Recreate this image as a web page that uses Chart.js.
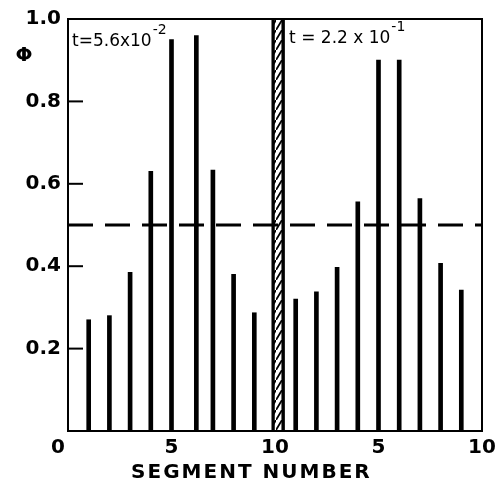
<!DOCTYPE html>
<html lang="en">
<head>
  <meta charset="UTF-8" />
  <title>Segment number vs phi</title>
  <script src="https://cdn.jsdelivr.net/npm/chart.js"></script>
  <style>
    body { margin: 0; background: #fff; }
    canvas { display: block; }
  </style>
</head>
<body>
  <canvas id="chart" width="502" height="485"></canvas>

  <script>
    // segment positions on a 0..20 axis (left panel 0-10, right panel 10-20)
    const leftSegments = [1, 2, 3, 4, 5, 6.2, 7, 8, 9];
    const leftPhi = [0.27, 0.28, 0.385, 0.63, 0.95, 0.96, 0.633, 0.38, 0.287];
    const rightSegments = [11, 12, 13, 14, 15, 16, 17, 18, 19];
    const rightPhi = [0.32, 0.338, 0.397, 0.556, 0.90, 0.90, 0.564, 0.407, 0.342];
    const dividerSegment = 10.15;
    const dividerPhi = 1.0;
    const thresholdPhi = 0.5;
    const xTickLabels = ['0', '5', '10', '5', '10'];
    const yTickValues = [0.2, 0.4, 0.6, 0.8];
    const leftLabel = { base: 't=5.6x10', exp: '-2' };
    const rightLabel = { base: 't = 2.2 x 10', exp: '-1' };

    const FONT = '"DejaVu Sans", sans-serif';

    // hatch pattern for the divider bar
    function makeHatch() {
      const c = document.createElement('canvas');
      c.width = 6; c.height = 10;
      const g = c.getContext('2d');
      g.fillStyle = '#fff';
      g.fillRect(0, 0, 6, 10);
      g.strokeStyle = '#000';
      g.lineWidth = 1.8;
      g.beginPath();
      g.moveTo(-0.6, 11); g.lineTo(6.6, -1);
      g.stroke();
      return g.createPattern(c, 'repeat');
    }

    const framePlugin = {
      id: 'frame',
      afterDraw(chart) {
        const ctx = chart.ctx;
        const a = chart.chartArea;
        const y = chart.scales.y;
        ctx.save();
        ctx.strokeStyle = '#000';
        ctx.lineWidth = 2;
        ctx.strokeRect(a.left, a.top, a.right - a.left, a.bottom - a.top);
        // inner tick marks
        yTickValues.forEach(v => {
          const py = y.getPixelForValue(v);
          ctx.beginPath();
          ctx.moveTo(a.left, py);
          ctx.lineTo(a.left + 15, py);
          ctx.stroke();
        });
        ctx.fillStyle = '#000';
        // phi label
        ctx.font = 'bold 20px ' + FONT;
        ctx.textAlign = 'center';
        ctx.textBaseline = 'middle';
        ctx.fillText('\u03A6', 24, y.getPixelForValue(0.91));
        // axis title
        ctx.letterSpacing = '2px';
        ctx.fillText('SEGMENT NUMBER', a.left + (a.right - a.left) * 0.443, a.bottom + 42);
        ctx.letterSpacing = '0px';
        // time labels
        ctx.textAlign = 'left';
        const drawT = (lab, x, yv) => {
          ctx.font = '17px ' + FONT;
          const py = y.getPixelForValue(yv);
          ctx.fillText(lab.base, x, py);
          const w = ctx.measureText(lab.base).width;
          ctx.font = '14px ' + FONT;
          ctx.fillText(lab.exp, x + w + 1, py - 11);
        };
        drawT(leftLabel, a.left + 4, 0.945);
        drawT(rightLabel, chart.scales.x.getPixelForValue(dividerSegment) + 11, 0.953);
        ctx.restore();
      }
    };

    const ctx = document.getElementById('chart').getContext('2d');
    new Chart(ctx, {
      type: 'bar',
      data: {
        datasets: [
          {
            type: 'line',
            data: [{ x: 0, y: thresholdPhi }, { x: 20, y: thresholdPhi }],
            borderColor: '#000',
            borderWidth: 3,
            borderDash: [25, 12],
            pointRadius: 0
          },
          {
            data: leftSegments.map((s, i) => ({ x: s, y: leftPhi[i] })),
            backgroundColor: '#000',
            barThickness: 4,
            grouped: false
          },
          {
            data: rightSegments.map((s, i) => ({ x: s, y: rightPhi[i] })),
            backgroundColor: '#000',
            barThickness: 4,
            grouped: false
          },
          {
            data: [{ x: dividerSegment, y: dividerPhi }],
            backgroundColor: makeHatch(),
            borderColor: '#000',
            borderWidth: { left: 3.5, right: 3.5, top: 0, bottom: 0 },
            borderSkipped: false,
            barThickness: 13,
            grouped: false
          }
        ]
      },
      options: {
        responsive: false,
        animation: false,
        layout: { padding: { top: 16, right: 20, left: 0, bottom: 0 } },
        plugins: { legend: { display: false }, tooltip: { enabled: false } },
        scales: {
          x: {
            type: 'linear',
            min: 0, max: 20,
            offset: false,
            grid: { display: false, drawTicks: false },
            border: { display: false },
            ticks: {
              stepSize: 5,
              padding: 5,
              color: '#000',
              font: { family: FONT, size: 20, weight: 'bold' },
              maxRotation: 0,
              callback: (v, i) => (i === 0 ? xTickLabels[0] + '\u2002\u2002' : xTickLabels[i])
            },
            afterFit: s => { s.height = 54; }
          },
          y: {
            min: 0, max: 1,
            grid: { display: false, drawTicks: false },
            border: { display: false },
            ticks: {
              stepSize: 0.2,
              padding: 7,
              color: '#000',
              font: { family: FONT, size: 20, weight: 'bold' },
              callback: v => (v === 0 ? '' : v.toFixed(1))
            },
            afterFit: s => { s.width = 68; }
          }
        }
      },
      plugins: [framePlugin]
    });
  </script>
</body>
</html>
